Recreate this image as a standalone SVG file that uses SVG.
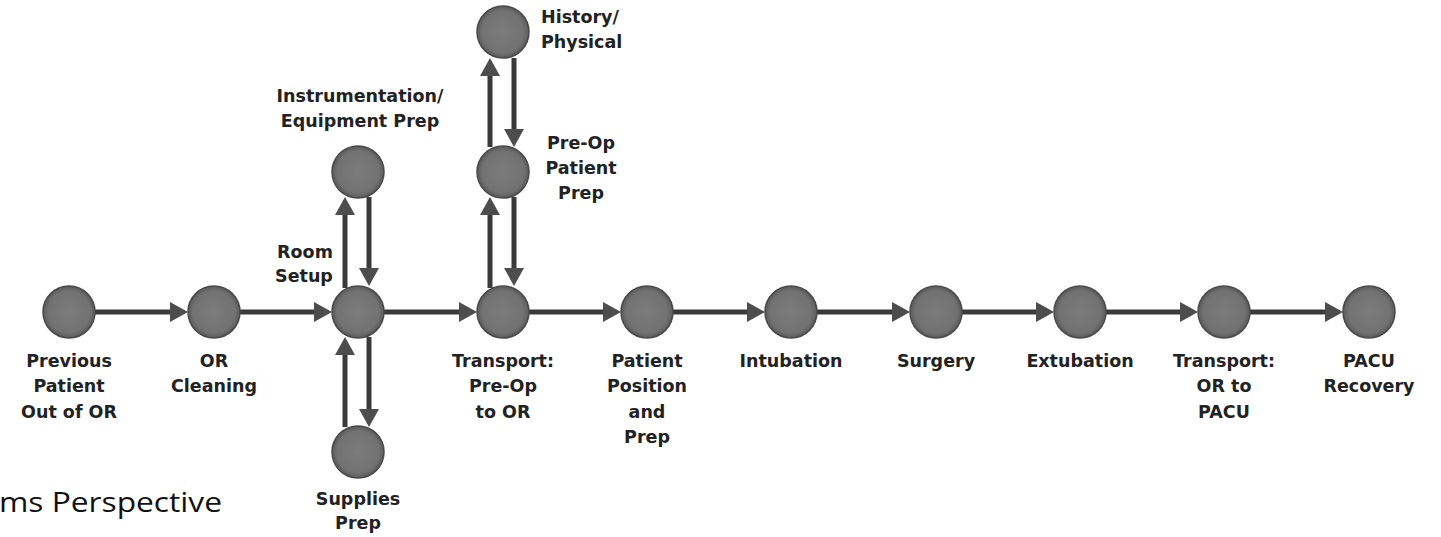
<svg xmlns="http://www.w3.org/2000/svg" width="1441" height="537" viewBox="0 0 1441 537">
<style>
.lbl{font-family:"DejaVu Sans",sans-serif;font-weight:bold;font-size:17.5px;fill:#222;text-anchor:middle}
.node circle{fill:url(#g);stroke:#4a4a4a;stroke-width:1.5}
.cn line{stroke:#3a3a3a;stroke-width:5;marker-end:url(#ah)}
.cap{font-family:"Open Sans","Liberation Sans",sans-serif;font-size:27px;fill:#111}
</style>
<defs>
<radialGradient id="g" cx="0.5" cy="0.5" r="0.5">
<stop offset="0" stop-color="#7c7c7c"/>
<stop offset="0.8" stop-color="#727272"/>
<stop offset="1" stop-color="#5a5a5a"/>
</radialGradient>
<marker id="ah" markerUnits="userSpaceOnUse" markerWidth="18" markerHeight="20" refX="0" refY="10" orient="auto">
<path d="M0,0 L18,10 L0,20 Z" fill="#4d4d4d"/>
</marker>
</defs>
<rect width="1441" height="537" fill="#fff"/>
<g id="connectors" class="cn">
<line x1="95" y1="312" x2="170" y2="312"/>
<line x1="240" y1="312" x2="314" y2="312"/>
<line x1="384" y1="312" x2="459" y2="312"/>
<line x1="529" y1="312" x2="603" y2="312"/>
<line x1="673" y1="312" x2="747" y2="312"/>
<line x1="817" y1="312" x2="892" y2="312"/>
<line x1="962" y1="312" x2="1036" y2="312"/>
<line x1="1106" y1="312" x2="1180" y2="312"/>
<line x1="1250" y1="312" x2="1325" y2="312"/>
<line x1="345" y1="288" x2="345" y2="215"/>
<line x1="369" y1="197" x2="369" y2="268"/>
<line x1="345" y1="427" x2="345" y2="355"/>
<line x1="369" y1="337" x2="369" y2="409"/>
<line x1="490" y1="288" x2="490" y2="215"/>
<line x1="514" y1="197" x2="514" y2="268"/>
<line x1="490" y1="147" x2="490" y2="76"/>
<line x1="514" y1="58" x2="514" y2="129"/>
</g>
<g id="n-previous" class="node"><circle cx="69" cy="312" r="26"/>
<text class="lbl" x="69" y="367">Previous</text><text class="lbl" x="69" y="392">Patient</text><text class="lbl" x="69" y="418">Out of OR</text></g>
<g id="n-cleaning" class="node"><circle cx="214" cy="312" r="26"/>
<text class="lbl" x="214" y="367">OR</text><text class="lbl" x="214" y="392">Cleaning</text></g>
<g id="n-room" class="node"><circle cx="358" cy="312" r="26"/>
<text class="lbl" x="305" y="258">Room</text><text class="lbl" x="304" y="282">Setup</text></g>
<g id="n-instr" class="node"><circle cx="358" cy="172" r="26"/>
<text class="lbl" x="360" y="102">Instrumentation/</text><text class="lbl" x="360" y="127">Equipment Prep</text></g>
<g id="n-supplies" class="node"><circle cx="358" cy="452" r="26"/>
<text class="lbl" x="358" y="505">Supplies</text><text class="lbl" x="358" y="529">Prep</text></g>
<g id="n-transport1" class="node"><circle cx="503" cy="312" r="26"/>
<text class="lbl" x="503" y="367">Transport:</text><text class="lbl" x="503" y="392">Pre-Op</text><text class="lbl" x="503" y="418">to OR</text></g>
<g id="n-preop" class="node"><circle cx="503" cy="172" r="26"/>
<text class="lbl" x="581" y="149">Pre-Op</text><text class="lbl" x="581" y="174">Patient</text><text class="lbl" x="581" y="199">Prep</text></g>
<g id="n-history" class="node"><circle cx="503" cy="32" r="26"/>
<text class="lbl" x="541" y="23" style="text-anchor:start">History/</text><text class="lbl" x="541" y="48" style="text-anchor:start">Physical</text></g>
<g id="n-position" class="node"><circle cx="647" cy="312" r="26"/>
<text class="lbl" x="647" y="367">Patient</text><text class="lbl" x="647" y="392">Position</text><text class="lbl" x="647" y="418">and</text><text class="lbl" x="647" y="443">Prep</text></g>
<g id="n-intubation" class="node"><circle cx="791" cy="312" r="26"/>
<text class="lbl" x="791" y="367">Intubation</text></g>
<g id="n-surgery" class="node"><circle cx="936" cy="312" r="26"/>
<text class="lbl" x="936" y="367">Surgery</text></g>
<g id="n-extubation" class="node"><circle cx="1080" cy="312" r="26"/>
<text class="lbl" x="1080" y="367">Extubation</text></g>
<g id="n-transport2" class="node"><circle cx="1224" cy="312" r="26"/>
<text class="lbl" x="1224" y="367">Transport:</text><text class="lbl" x="1224" y="392">OR to</text><text class="lbl" x="1224" y="418">PACU</text></g>
<g id="n-pacu" class="node"><circle cx="1369" cy="312" r="26"/>
<text class="lbl" x="1369" y="367">PACU</text><text class="lbl" x="1369" y="392">Recovery</text></g>
<text class="cap" x="-1" y="512" textLength="223" lengthAdjust="spacingAndGlyphs">ms Perspective</text>
</svg>
